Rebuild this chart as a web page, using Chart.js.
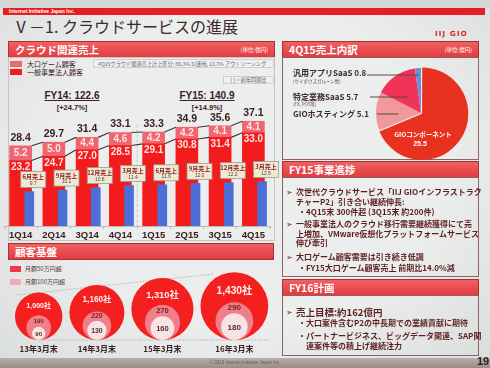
<!DOCTYPE html>
<html lang="ja">
<head>
<meta charset="utf-8">
<script src="https://cdn.jsdelivr.net/npm/chart.js@4.4.0/dist/chart.umd.min.js"></script>
<style>
  html, body { margin: 0; padding: 0; }
  body {
    width: 490px; height: 368px; position: relative; overflow: hidden;
    background: radial-gradient(ellipse at 50% 45%, #eceeed 55%, #d9dddb 100%);
    font-family: "Noto Sans CJK JP", "DejaVu Sans", sans-serif; color: #3a2424;
  }
  .abs { position: absolute; white-space: nowrap; }
  .hdr {
    position: absolute; height: 17px; box-sizing: border-box;
    background: linear-gradient(#ef6163, #e33b3f); border: 1px solid #a93030;
    color: #fff; font-weight: bold; font-size: 10.5px; line-height: 15px; padding-left: 6px;
  }
  .unit { position: absolute; right: 6px; top: 1px; font-size: 5.5px; font-weight: normal; }
  .box { position: absolute; box-sizing: border-box; border: 1px solid #8f6262; }
  .txt { position: absolute; white-space: nowrap; font-size: 8px; font-weight: bold; color: #5c1f1f; line-height: 10px; }
  .lbl { position: absolute; white-space: nowrap; font-size: 8px; font-weight: bold; color: #3e2a2a; line-height: 10px; }
  .sub { position: absolute; white-space: nowrap; font-size: 4.5px; color: #5a4a4a; line-height: 6px; }
  canvas { position: absolute; }
</style>
</head>
<body>
<div class="abs" style="left:0;top:0;width:490px;height:8px;background:#d3d7d6"></div>
<div class="abs" style="left:3px;top:8px;width:482px;height:7px;background:#e61e22;color:#fff;font:bold 5px 'Liberation Sans';line-height:7px;padding-left:6px;box-sizing:border-box">Internet Initiative Japan Inc.</div>
<div class="abs" style="left:13px;top:14px;font-size:16px;line-height:24px;color:#3a2a2a">Ⅴ－1. クラウドサービスの進展</div>
<div class="abs" style="left:435px;top:30px;font:bold 7px 'DejaVu Sans';letter-spacing:1.2px;color:#e0202a">IIJ GIO</div>

<div class="hdr" style="left:8px;top:41px;width:267px">クラウド関連売上<span class="unit">(単位:億円)</span></div>
<div class="hdr" style="left:282px;top:41px;width:197px">4Q15売上内訳<span class="unit">(単位:億円)</span></div>
<div class="box" style="left:8px;top:57px;width:267px;height:184px;border-color:#cbc4c4"></div>
<div class="box" style="left:282px;top:57px;width:197px;height:103px"></div>

<div class="abs" style="left:10px;top:61px;width:12px;height:6px;background:#ef6670"></div>
<div class="abs" style="left:27px;top:59px;font-size:7px;line-height:10px">大口ゲーム顧客</div>
<div class="abs" style="left:10px;top:69px;width:12px;height:6px;background:#f31b1b"></div>
<div class="abs" style="left:27px;top:67px;font-size:7px;line-height:10px">一般事業法人顧客</div>
<div class="abs" style="left:93px;top:59px;width:181px;height:9px;background:#eef0ef;border:1px solid #cfcfcf;box-sizing:border-box;font-size:5.2px;line-height:7px;color:#666;padding-left:4px">4Q15クラウド関連売上計上区分: 86.3% SI運用, 13.7% アウトソーシング</div>
<div class="abs" style="left:223px;top:76px;width:51px;height:8px;background:#eef0ef;border:1px solid #cfcfcf;box-sizing:border-box;font-size:5.2px;line-height:6px;color:#555;text-align:center">[ ] = 前年同期比</div>

<div class="abs" style="left:32px;top:90px;width:80px;text-align:center;font:bold 10px 'Liberation Sans';text-decoration:underline;color:#3a2222">FY14: 122.6</div>
<div class="abs" style="left:32px;top:103px;width:80px;text-align:center;font:bold 7.5px 'Liberation Sans';color:#3a2222">[+24.7%]</div>
<div class="abs" style="left:167px;top:90px;width:80px;text-align:center;font:bold 10px 'Liberation Sans';text-decoration:underline;color:#3a2222">FY15: 140.9</div>
<div class="abs" style="left:167px;top:103px;width:80px;text-align:center;font:bold 7.5px 'Liberation Sans';color:#3a2222">[+14.9%]</div>

<canvas id="sales" width="276" height="156" style="left:4px;top:86px"></canvas>

<div class="hdr" style="left:8px;top:243px;width:266px">顧客基盤</div>
<div class="abs" style="left:10px;top:266px;width:11px;height:6px;background:#f03848"></div>
<div class="abs" style="left:25px;top:265px;font-size:6px;line-height:8px;color:#5a3a3a">月額50万円超</div>
<div class="abs" style="left:10px;top:279px;width:11px;height:6px;background:#f4aab2"></div>
<div class="abs" style="left:25px;top:278px;font-size:6px;line-height:8px;color:#5a3a3a">月額100万円超</div>
<canvas id="base" width="267" height="94" style="left:8px;top:262px"></canvas>

<canvas id="mix" width="195" height="110" style="left:283px;top:58px"></canvas>
<div class="lbl" style="left:293px;top:68px">汎用アプリSaaS 0.8</div>
<div class="sub" style="left:293px;top:78px">(サイボウズガルーン他)</div>
<div class="lbl" style="left:293px;top:92px">特定業務SaaS 5.7</div>
<div class="sub" style="left:293px;top:101px">(FX, POS等)</div>
<div class="lbl" style="left:293px;top:109px">GIOホスティング 5.1</div>

<div class="hdr" style="left:282px;top:161px;width:197px">FY15事業進捗</div>
<div class="box" style="left:282px;top:177px;width:197px;height:100px"></div>
<div class="txt" style="left:286px;top:187px">➢</div>
<div class="txt" style="left:296px;top:187px">次世代クラウドサービス「IIJ GIOインフラストラク</div>
<div class="txt" style="left:296px;top:197px">チャーP2」引き合い継続伸長:</div>
<div class="txt" style="left:298px;top:207px">・4Q15末 300件超 (3Q15末 約200件)</div>
<div class="txt" style="left:286px;top:219px">➢</div>
<div class="txt" style="left:296px;top:219px">一般事業法人のクラウド移行需要継続獲得にて売</div>
<div class="txt" style="left:296px;top:229px">上増加、VMware仮想化プラットフォームサービス</div>
<div class="txt" style="left:296px;top:238px">伸び牽引</div>
<div class="txt" style="left:286px;top:252px">➢</div>
<div class="txt" style="left:296px;top:252px">大口ゲーム顧客需要は引き続き低調</div>
<div class="txt" style="left:298px;top:263px">・FY15大口ゲーム顧客売上 前期比14.0%減</div>

<div class="hdr" style="left:282px;top:279px;width:197px">FY16計画</div>
<div class="box" style="left:282px;top:295px;width:197px;height:61px"></div>
<div class="txt" style="left:286px;top:307px">➢</div>
<div class="txt" style="left:296px;top:306px;font-size:9.5px;line-height:12px">売上目標:約162億円</div>
<div class="txt" style="left:298px;top:318px">・大口案件含むP2の中長期での業績貢献に期待</div>
<div class="txt" style="left:298px;top:331px">・パートナービジネス、ビッグデータ関連、SAP関</div>
<div class="txt" style="left:306px;top:341px">連案件等の積上げ継続注力</div>

<div class="abs" style="left:0;top:358px;width:490px;height:10px;background:linear-gradient(#b9aea8,#9a8c86)"></div>
<div class="abs" style="left:0;top:359px;width:490px;text-align:center;font:4.5px 'Liberation Sans';line-height:8px;color:#6a5e5a">© 2016 Internet Initiative Japan Inc.</div>
<div class="abs" style="left:477px;top:355px;font:bold 11px 'Liberation Sans';color:#2a2020">19</div>

<script>
// quarterly cloud sales (億円)
const quarters = ['1Q14', '2Q14', '3Q14', '4Q14', '1Q15', '2Q15', '3Q15', '4Q15'];
const corporateSales = [23.2, 24.7, 27.0, 28.5, 29.1, 30.8, 31.4, 33.0];
const gameSales = [5.2, 5.0, 4.4, 4.6, 4.2, 4.2, 4.1, 4.1];
const quarterTotals = [28.4, 29.7, 31.4, 33.1, 33.3, 34.9, 35.6, 37.1];
const monthNames = ['6月売上', '9月売上', '12月売上', '3月売上', '6月売上', '9月売上', '12月売上', '3月売上'];
const monthSales = [9.7, 10.1, 10.8, 11.4, 11.6, 12.0, 12.2, 12.5];

// 4Q15 breakdown
const mixLabels = ['GIOコンポーネント', 'GIOホスティング', '特定業務SaaS', '汎用アプリSaaS'];
const mixValues = [25.5, 5.1, 5.7, 0.8];

// customer base (社)
const yearEnds = ['13年3月末', '14年3月末', '15年3月末', '16年3月末'];
const over50 = [1000, 1160, 1310, 1430];
const over100 = [190, 220, 270, 290];
const topTier = [90, 130, 160, 180];

const numFont = '"Liberation Sans", Arial, sans-serif';
const jpFont = '"Noto Sans CJK JP", sans-serif';

const barDecor = {
  id: 'barDecor',
  afterDatasetsDraw(chart) {
    const { ctx, scales: { x, y } } = chart;
    const blue = chart.getDatasetMeta(0).data;
    const red = chart.getDatasetMeta(1).data;
    const pink = chart.getDatasetMeta(2).data;
    ctx.save();
    // FY14 | FY15 divider
    const dx = (x.getPixelForValue(3) + x.getPixelForValue(4)) / 2;
    ctx.strokeStyle = '#c4cac8';
    ctx.lineWidth = 1;
    ctx.setLineDash([3, 2]);
    ctx.beginPath();
    ctx.moveTo(dx, y.getPixelForValue(36));
    ctx.lineTo(dx, y.bottom);
    ctx.stroke();
    ctx.setLineDash([]);
    // step lines between bar tops
    ctx.strokeStyle = '#3d3535';
    ctx.lineWidth = 1.1;
    [red, pink].forEach(bars => {
      ctx.beginPath();
      for (let i = 0; i < bars.length - 1; i++) {
        ctx.moveTo(bars[i].x + bars[i].width / 2, bars[i].y);
        ctx.lineTo(bars[i + 1].x - bars[i + 1].width / 2, bars[i + 1].y);
      }
      ctx.stroke();
    });
    ctx.textAlign = 'center';
    ctx.textBaseline = 'middle';
    pink.forEach((p, i) => {
      ctx.fillStyle = '#3a2222';
      ctx.font = 'bold 10.5px ' + numFont;
      ctx.fillText(quarterTotals[i].toFixed(1), p.x, p.y - 8);
      ctx.fillStyle = '#ffe2e2';
      ctx.font = 'bold 10px ' + numFont;
      ctx.fillText(gameSales[i].toFixed(1), p.x, (p.y + p.base) / 2);
      ctx.fillText(corporateSales[i].toFixed(1), red[i].x, red[i].y + 6.5);
    });
    // monthly callouts
    blue.forEach((b, i) => {
      const w = 25, h = 16, cx = b.x + 4, top = b.y - 4 - h;
      ctx.fillStyle = '#efe9d4';
      ctx.strokeStyle = '#9b9894';
      ctx.lineWidth = 0.8;
      ctx.fillRect(cx - w / 2, top, w, h);
      ctx.strokeRect(cx - w / 2, top, w, h);
      ctx.fillStyle = '#8c1c1c';
      ctx.font = 'bold 6px ' + jpFont;
      ctx.fillText(monthNames[i], cx, top + 5.5);
      ctx.fillStyle = '#5a4040';
      ctx.font = '5px ' + numFont;
      ctx.fillText(monthSales[i].toFixed(1), cx, top + 12);
    });
    ctx.restore();
  }
};

new Chart(document.getElementById('sales'), {
  type: 'bar',
  data: {
    labels: quarters,
    datasets: [
      {
        label: '月次売上',
        data: monthSales.map((v, i) => ({ x: i + 0.26, y: v })),
        xAxisID: 'x2', yAxisID: 'y2',
        backgroundColor: '#4b6fd6', maxBarThickness: 9
      },
      { label: '一般事業法人顧客', data: corporateSales, stack: 'q', backgroundColor: '#f31b1b', maxBarThickness: 22 },
      { label: '大口ゲーム顧客', data: gameSales, stack: 'q', backgroundColor: '#ef6670', maxBarThickness: 22 }
    ]
  },
  options: {
    responsive: false,
    animation: false,
    layout: { padding: { right: 10 } },
    datasets: { bar: { grouped: false, categoryPercentage: 1, barPercentage: 1 } },
    plugins: { legend: { display: false }, tooltip: { enabled: false } },
    scales: {
      x: {
        grid: { display: true, drawOnChartArea: false, tickLength: 3, color: '#b9b9b9' },
        border: { color: '#b9b9b9' },
        ticks: { padding: 1, color: '#3a2222', maxRotation: 0, autoSkip: false,
                 font: { family: numFont, size: 9.5, weight: 'bold' } },
        afterFit: s => { s.height = 16; }
      },
      x2: { type: 'linear', display: false, offset: false, min: -0.5, max: 7.5 },
      y: { display: false, stacked: true, min: 0, max: 49.6 },
      y2: { display: false, min: 0, max: 39.4 }
    }
  },
  plugins: [barDecor]
});

// pie: leader lines start just after the html labels (canvas coords)
const leaderLines = [
  { slice: 1, x: 94, y: 56, depth: 0.5 },
  { slice: 2, x: 87, y: 39, depth: 0.5 },
  { slice: 3, x: 84, y: 17, depth: 0.7 }
];

const pieDecor = {
  id: 'pieDecor',
  afterDatasetsDraw(chart) {
    const ctx = chart.ctx;
    const arcs = chart.getDatasetMeta(0).data;
    ctx.save();
    ctx.strokeStyle = '#5b4848';
    ctx.lineWidth = 1;
    leaderLines.forEach(l => {
      const a = arcs[l.slice];
      const mid = (a.startAngle + a.endAngle) / 2;
      const px = a.x + Math.cos(mid) * a.outerRadius * l.depth;
      ctx.beginPath();
      ctx.moveTo(l.x, l.y);
      ctx.lineTo(px, l.y);
      ctx.stroke();
    });
    const main = arcs[0];
    ctx.fillStyle = '#ffffff';
    ctx.textAlign = 'center';
    ctx.textBaseline = 'middle';
    ctx.font = 'bold 6.5px ' + jpFont;
    ctx.fillText(mixLabels[0], main.x + 2, main.y + 22);
    ctx.font = 'bold 7px ' + numFont;
    ctx.fillText(mixValues[0].toFixed(1), main.x - 1, main.y + 31);
    ctx.restore();
  }
};

new Chart(document.getElementById('mix'), {
  type: 'pie',
  data: {
    labels: mixLabels,
    datasets: [{
      data: mixValues,
      backgroundColor: ['#e8321f', '#f0999d', '#f1335a', '#6f8fd8'],
      borderWidth: 0,
      offset: [5, 0, 0, 0]
    }]
  },
  options: {
    responsive: false,
    animation: false,
    radius: 45,
    layout: { padding: { left: 81 } },
    plugins: { legend: { display: false }, tooltip: { enabled: false } }
  },
  plugins: [pieDecor]
});

// customer base: nested circles, radius linear in count, resting on one baseline
const kOuter = 0.0237, kMid = 0.065, kTop = 0.074, gap = 7, baseY = 16;
const centres = [];
over50.reduce((edge, v) => {
  const r = v * kOuter;
  centres.push(edge + r);
  return edge + 2 * r + gap;
}, 7);
const ring = (vals, k) => vals.map((v, i) => ({ x: centres[i], y: baseY + v * k, r: v * k }));

const circleDecor = {
  id: 'circleDecor',
  beforeDatasetsDraw(chart) {
    const ctx = chart.ctx;
    const outer = chart.getDatasetMeta(2).data;
    const a = outer[0], b = outer[outer.length - 1];
    const base = chart.scales.y.getPixelForValue(baseY);
    ctx.save();
    ctx.strokeStyle = '#a0a0a0';
    ctx.lineWidth = 0.8;
    ctx.setLineDash([1.5, 1.5]);
    ctx.beginPath();
    ctx.moveTo(a.x - a.options.radius * 0.9, a.y - a.options.radius * 0.9);
    ctx.lineTo(b.x - b.options.radius * 0.6, b.y - b.options.radius * 0.95);
    ctx.moveTo(a.x, base);
    ctx.lineTo(b.x + b.options.radius, base);
    ctx.stroke();
    ctx.restore();
  },
  afterDatasetsDraw(chart) {
    const ctx = chart.ctx;
    const inner = chart.getDatasetMeta(0).data;
    const mid = chart.getDatasetMeta(1).data;
    const outer = chart.getDatasetMeta(2).data;
    const base = chart.scales.y.getPixelForValue(baseY);
    ctx.save();
    ctx.textAlign = 'center';
    ctx.textBaseline = 'middle';
    outer.forEach((o, i) => {
      const ro = o.options.radius, rm = mid[i].options.radius, rt = inner[i].options.radius;
      ctx.fillStyle = '#fff0f0';
      ctx.font = 'bold ' + (ro * 0.3).toFixed(1) + 'px "Liberation Sans", "Noto Sans CJK JP"';
      ctx.fillText(over50[i].toLocaleString('en-US') + '社', o.x, o.y - ro + ro * 0.55);
      ctx.font = 'bold ' + (1.3 + ro * 0.2).toFixed(1) + 'px ' + numFont;
      ctx.fillStyle = '#7a1d1d';
      ctx.fillText(String(over100[i]), o.x, ((mid[i].y - rm) + (inner[i].y - rt)) / 2);
      ctx.fillStyle = '#5a2a2a';
      ctx.fillText(String(topTier[i]), o.x, inner[i].y + 1);
      ctx.fillStyle = '#3a2424';
      ctx.font = 'bold 8px ' + jpFont;
      ctx.fillText(yearEnds[i], o.x, base + 9);
    });
    ctx.restore();
  }
};

new Chart(document.getElementById('base'), {
  type: 'bubble',
  data: {
    datasets: [
      { label: 'inner', data: ring(topTier, kTop), backgroundColor: '#f6e4e4', borderWidth: 0, clip: false },
      { label: '月額100万円超', data: ring(over100, kMid), backgroundColor: '#ef7f8a', borderWidth: 0, clip: false },
      { label: '月額50万円超', data: ring(over50, kOuter), backgroundColor: '#f41f1f', borderWidth: 0, clip: false }
    ]
  },
  options: {
    responsive: false,
    animation: false,
    layout: { padding: 0, autoPadding: false },
    plugins: { legend: { display: false }, tooltip: { enabled: false } },
    scales: {
      x: { type: 'linear', display: false, min: 0, max: 267 },
      y: { type: 'linear', display: false, min: 0, max: 94 }
    }
  },
  plugins: [circleDecor]
});
</script>
</body>
</html>
